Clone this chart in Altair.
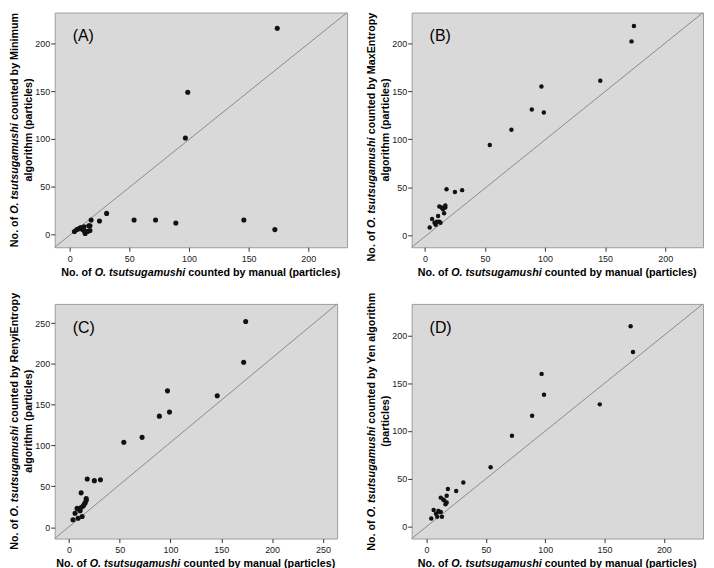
import altair as alt
import pandas as pd

# ---- data ----
manual = [4, 6, 8, 9, 10, 11, 12, 12, 13, 14, 15, 16, 17, 17, 18, 25, 31, 54, 72, 89, 97, 99, 146, 172, 174]
minimum = [3, 5, 6, 7, 7, 5, 4, 8, 1, 3, 3, 9, 9, 4, 15, 14, 22, 15, 15, 12, 101, 149, 15, 5, 216]
maxentropy = [8, 17, 13, 11, 14, 20, 30, 14, 13, 29, 27, 23, 29, 31, 48, 45, 47, 94, 110, 131, 155, 128, 161, 202, 218]
renyi = [9, 17, 23, 11, 22, 20, 42, 24, 13, 26, 28, 30, 33, 35, 59, 57, 58, 104, 110, 136, 167, 141, 161, 202, 252]
yen = [8, 17, 13, 10, 16, 15, 30, 15, 10, 28, 27, 23, 25, 32, 39, 37, 46, 62, 95, 116, 160, 138, 128, 210, 183]

panel_letters = ["(A)", "(B)", "(C)", "(D)"]
y_line1_tails = ["counted by Minimum", "counted by MaxEntropy", "counted by RenyiEntropy", "counted by Yen algorithm"]
y_line2 = ["algorithm (particles)", "algorithm (particles)", "algorithm (particles)", "(particles)"]
x_title_parts = ["No. of", "O. tsutsugamushi", "counted by manual (particles)"]
ticks_small = [0, 50, 100, 150, 200]
ticks_large = [0, 50, 100, 150, 200, 250]
x_domains = [[-12.5, 232.5], [-11, 231.5], [-14, 264], [-12.5, 233]]
y_domains = [[-13.5, 232.5], [-12.5, 232], [-14, 273.5], [-13, 233.5]]

# ---- style ----
FONT = "Liberation Sans"
TS = 10.8
BOLD_W = {' ': 278, '(': 333, ')': 333, '.': 278, 'A': 722, 'B': 722, 'C': 722, 'D': 722,
          'E': 667, 'M': 833, 'N': 722, 'O': 778, 'R': 722, 'Y': 667, 'a': 556, 'b': 611,
          'c': 556, 'd': 611, 'e': 556, 'f': 333, 'g': 611, 'h': 611, 'i': 278, 'l': 278,
          'm': 889, 'n': 611, 'o': 611, 'p': 611, 'r': 389, 's': 556, 't': 333, 'u': 611,
          'x': 556, 'y': 556}


def tw(s, size=TS):
    return sum(BOLD_W.get(c, 556) for c in s) * size / 1000.0


ONE = pd.DataFrame({"k": [0]})


def txt(s, x, y, angle=0, align="left", italic=False, size=TS, weight="bold"):
    return alt.Chart(ONE).mark_text(
        align=align, baseline="middle", angle=angle, font=FONT, fontSize=size,
        fontWeight=weight, fontStyle="italic" if italic else "normal", color="#000"
    ).encode(text=alt.value(s), x=alt.value(x), y=alt.value(y))


def panel(i, yvals, ticks, w, h, size, top_row):
    xdom, ydom = x_domains[i], y_domains[i]
    xs = alt.Scale(domain=xdom, nice=False, zero=False)
    ys = alt.Scale(domain=ydom, nice=False, zero=False)
    xa = alt.Axis(values=ticks, title=None, format="d")
    ya = alt.Axis(values=ticks, title=None, format="d")
    df = pd.DataFrame({"manual": manual, "algo": yvals})
    diag = pd.DataFrame({"manual": xdom, "algo": ydom})
    line = alt.Chart(diag).mark_line(color="#8a8a8a", strokeWidth=1).encode(
        x=alt.X("manual:Q", scale=xs, axis=xa), y=alt.Y("algo:Q", scale=ys, axis=ya))
    pts = alt.Chart(df).mark_circle(size=size, color="#111111", opacity=1).encode(
        x=alt.X("manual:Q", scale=xs, axis=xa), y=alt.Y("algo:Q", scale=ys, axis=ya))
    layers = [line, pts, txt(panel_letters[i], 18, 24, size=16, weight="normal")]

    # x title (three pieces, middle one italic)
    sp = tw(" ")
    w1, w2, w3 = (tw(p) for p in x_title_parts)
    W = w1 + sp + w2 + sp + w3
    x0 = w / 2 - W / 2
    yt = h + 26
    layers += [txt(x_title_parts[0], x0, yt),
               txt(x_title_parts[1], x0 + w1 + sp, yt, italic=True),
               txt(x_title_parts[2], x0 + w1 + sp + w2 + sp, yt)]

    # y title line 1 (rotated, three pieces)
    tail = y_line1_tails[i]
    wt = tw(tail)
    W = w1 + sp + w2 + sp + wt
    y0 = h / 2 + W / 2
    if top_row and y0 - W < 0:
        y0 = W
    xl1 = -39.5
    layers += [txt(x_title_parts[0], xl1, y0, angle=270),
               txt(x_title_parts[1], xl1, y0 - (w1 + sp), angle=270, italic=True),
               txt(tail, xl1, y0 - (w1 + sp + w2 + sp), angle=270)]
    layers.append(txt(y_line2[i], -26, h / 2, angle=270, align="center"))
    return alt.layer(*layers).properties(width=w, height=h)


H = 236
pa = panel(0, minimum, ticks_small, 294, H, 26, True)
pb = panel(1, maxentropy, ticks_small, 293, H, 20, True)
pc = panel(2, renyi, ticks_large, 284, H, 26, False)
pd_ = panel(3, yen, ticks_small, 293, H, 20, False)

chart = alt.concat(pa, pb, pc, pd_, columns=2, spacing={"row": 57, "column": 65},
                   bounds="flush").properties(padding=0).configure_view(
    fill="#d9d9d9", stroke="#9c9c9c", strokeWidth=1
).configure_axis(
    grid=False, domain=False, ticks=True, tickColor="#333333", tickSize=4,
    labelFont=FONT, labelFontSize=9, labelColor="#222222"
).configure_axisX(labelPadding=3).configure_axisY(labelPadding=1)

chart.save("out.html", embed_options={"renderer": "svg", "actions": False})
